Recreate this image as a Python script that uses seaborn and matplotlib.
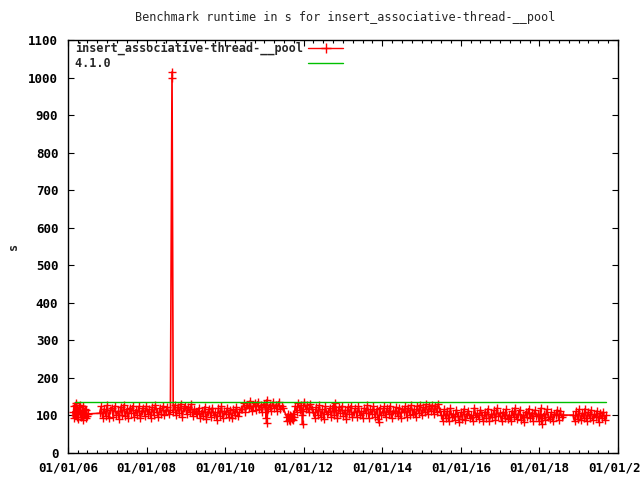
import pandas as pd
import matplotlib
matplotlib.use("Agg")
import matplotlib.pyplot as plt
import matplotlib.dates as mdates
import seaborn as sns

# Runtime samples (s), one block per stretch of the timeline
seg1_start, seg1_freq = "2006-02-15", "7D"
seg1_vals = [110, 93, 124, 100, 127, 96, 115, 90, 122, 104, 128, 95, 112, 89, 125,
             102, 118, 94, 114, 99, 104]

seg2_start, seg2_freq = "2006-10-22", "14D"
seg2_vals = [106, 124, 94, 118, 99, 127, 92, 114, 121, 97,
             125, 102, 111, 90, 123, 101, 128, 98, 117, 93,
             120, 107, 126, 95, 115, 102, 124, 92, 112, 121,
             98, 125, 104, 117, 94, 123, 100, 128, 109, 96,
             120, 105, 125, 101, 114, 122, 103, 115]

seg3_start, seg3_freq = "2008-09-05", "14D"
seg3_vals = [110, 128, 100, 123, 106, 131, 97, 119, 126, 103, 122, 108, 130, 99, 118, 107]

seg4_start, seg4_freq = "2009-04-17", "14D"
seg4_vals = [104, 120, 92, 113, 98, 123, 90, 110, 117, 95,
             121, 100, 108, 89, 119, 99, 124, 93, 112, 104,
             120, 96, 115, 92, 116, 102, 122, 98, 110, 118]

seg5_start, seg5_freq = "2010-06-11", "14D"
seg5_vals = [117, 134, 110, 129, 121, 138, 112, 126, 132, 114,
             136, 118, 127, 108, 131, 122, 141, 116, 129, 111,
             135, 119, 128, 113, 137, 117, 126, 121]

seg6_start, seg6_freq = "2011-07-26", "7D"
seg6_vals = [96, 86, 103, 89, 100, 84, 98, 90, 104, 87, 95]

seg7_start, seg7_freq = "2011-10-14", "14D"
seg7_vals = [125, 110, 133, 115, 129, 111, 135, 118, 127, 108, 131, 116]

seg8_start, seg8_freq = "2012-03-30", "14D"
seg8_vals = [110, 94, 123, 101, 127, 97, 116, 91, 124, 104,
             109, 120, 96, 126, 100, 115, 93, 122, 106, 125,
             98, 114, 91, 123, 103, 126, 95, 108, 119, 97,
             124, 101, 112, 92, 120, 107, 127, 94, 116, 104,
             125, 97, 117, 91, 121, 100, 109, 124, 95, 119,
             103, 126, 93, 113, 106, 122, 98, 120, 94, 116,
             108, 125, 97, 121, 102, 127, 105, 117, 96, 124,
             106, 128, 100, 122, 108, 130, 103, 124, 111, 129,
             105, 126, 109, 131, 113]

seg9_start, seg9_freq = "2015-07-03", "14D"
seg9_vals = [102, 86, 116, 92, 112, 84, 119, 95, 105, 88,
             115, 98, 83, 108, 91, 117, 87, 104, 113, 93,
             101, 85, 120, 96, 107, 90, 115, 100, 84, 110,
             92, 118, 86, 103, 95, 114, 88, 119, 98, 106,
             84, 109, 93, 116, 91, 102, 85, 112, 96, 120,
             90, 104, 115, 87, 100, 83, 110, 95, 118, 92,
             107, 86, 114, 98, 103, 84, 119, 94, 105, 88,
             116, 97, 91, 108, 85, 104, 100, 115, 89, 111,
             96, 101]

seg10_start, seg10_freq = "2018-11-09", "14D"
seg10_vals = [101, 84, 111, 90, 116, 87, 106, 94, 118, 85, 109, 93, 115, 88, 103,
              96, 113, 83, 107, 92, 110, 89, 100]

# single odd runs (spike and outliers)
odd_dates = ["2006-03-20", "2008-08-25", "2008-08-25", "2011-01-20", "2011-01-21",
             "2011-12-20", "2011-12-21", "2012-10-19", "2013-12-01", "2018-01-22"]
odd_vals = [133, 1000, 1015, 92, 80, 100, 76, 133, 83, 77]

# reference release 4.1.0
ref_dates = ["2006-03-07", "2019-09-09"]
ref_vals = [135, 135]

series_name = "insert_associative-thread-__pool"
ref_name = "4.1.0"

segments = [
    (seg1_start, seg1_freq, seg1_vals), (seg2_start, seg2_freq, seg2_vals),
    (seg3_start, seg3_freq, seg3_vals), (seg4_start, seg4_freq, seg4_vals),
    (seg5_start, seg5_freq, seg5_vals), (seg6_start, seg6_freq, seg6_vals),
    (seg7_start, seg7_freq, seg7_vals), (seg8_start, seg8_freq, seg8_vals),
    (seg9_start, seg9_freq, seg9_vals), (seg10_start, seg10_freq, seg10_vals),
]
parts = [pd.DataFrame({"date": pd.date_range(s, periods=len(v), freq=f), "value": v})
         for s, f, v in segments]
parts.append(pd.DataFrame({"date": pd.to_datetime(odd_dates), "value": odd_vals}))
df = pd.concat(parts).sort_values("date", kind="stable").reset_index(drop=True)
df_ref = pd.DataFrame({"date": pd.to_datetime(ref_dates), "value": ref_vals})

sns.set_style("ticks")
plt.rcParams["font.family"] = ["DejaVu Sans Mono"]

fig = plt.figure(figsize=(6.4, 4.8), dpi=100)
ax = fig.add_axes([68 / 640, 1 - 453 / 480, 550 / 640, 413 / 480])

# gnuplot keys: left-aligned text, samples on the right
width = max(len(series_name), len(ref_name))
sns.lineplot(data=df, x="date", y="value", ax=ax, estimator=None, sort=False,
             color="#ff0000", lw=1.2, marker="+", markersize=5.5,
             markeredgewidth=1.0, markeredgecolor="#ff0000",
             label=series_name.ljust(width))
sns.lineplot(data=df_ref, x="date", y="value", ax=ax, estimator=None,
             color="#00c000", lw=1.0, label=ref_name.ljust(width))

ax.set_xlim(pd.Timestamp("2006-01-01"), pd.Timestamp("2020-01-01"))
ax.set_ylim(0, 1100)
ax.set_yticks(range(0, 1101, 100))
ax.xaxis.set_major_locator(mdates.YearLocator(2))
ax.xaxis.set_minor_locator(mdates.MonthLocator(bymonth=[1, 4, 7, 10]))
ax.xaxis.set_major_formatter(mdates.DateFormatter("%m/%d/%y"))
ax.set_xlabel("")
ax.set_ylabel("")

ax.tick_params(which="both", direction="in", top=True, right=True, width=0.8,
               colors="black")
ax.tick_params(which="major", length=4.5)
ax.tick_params(which="minor", length=2.5)
ax.tick_params(axis="x", pad=6)
ax.tick_params(axis="y", pad=7)
for lab in ax.get_xticklabels() + ax.get_yticklabels():
    lab.set_fontsize(9)
    lab.set_fontweight("bold")
for sp in ax.spines.values():
    sp.set_linewidth(1.0)
    sp.set_color("black")

leg = ax.legend(loc="upper left", bbox_to_anchor=(0.008, 1.003), frameon=False,
                markerfirst=False, handlelength=3.0, handletextpad=0.4,
                labelspacing=0.15, borderaxespad=0.05, borderpad=0.2,
                prop={"family": "DejaVu Sans Mono", "weight": "bold", "size": 8.5})
for h in leg.legend_handles:
    h.set_linewidth(1.0)
    h.set_markersize(7)

fig.text(345 / 640, 1 - 18 / 480, "Benchmark runtime in s for " + series_name,
         ha="center", va="center", fontsize=8.5)
fig.text(14 / 640, 1 - 246 / 480, "s", rotation=90, ha="center", va="center",
         fontsize=8.5, fontweight="bold")

fig.savefig("out.png", dpi=100)
